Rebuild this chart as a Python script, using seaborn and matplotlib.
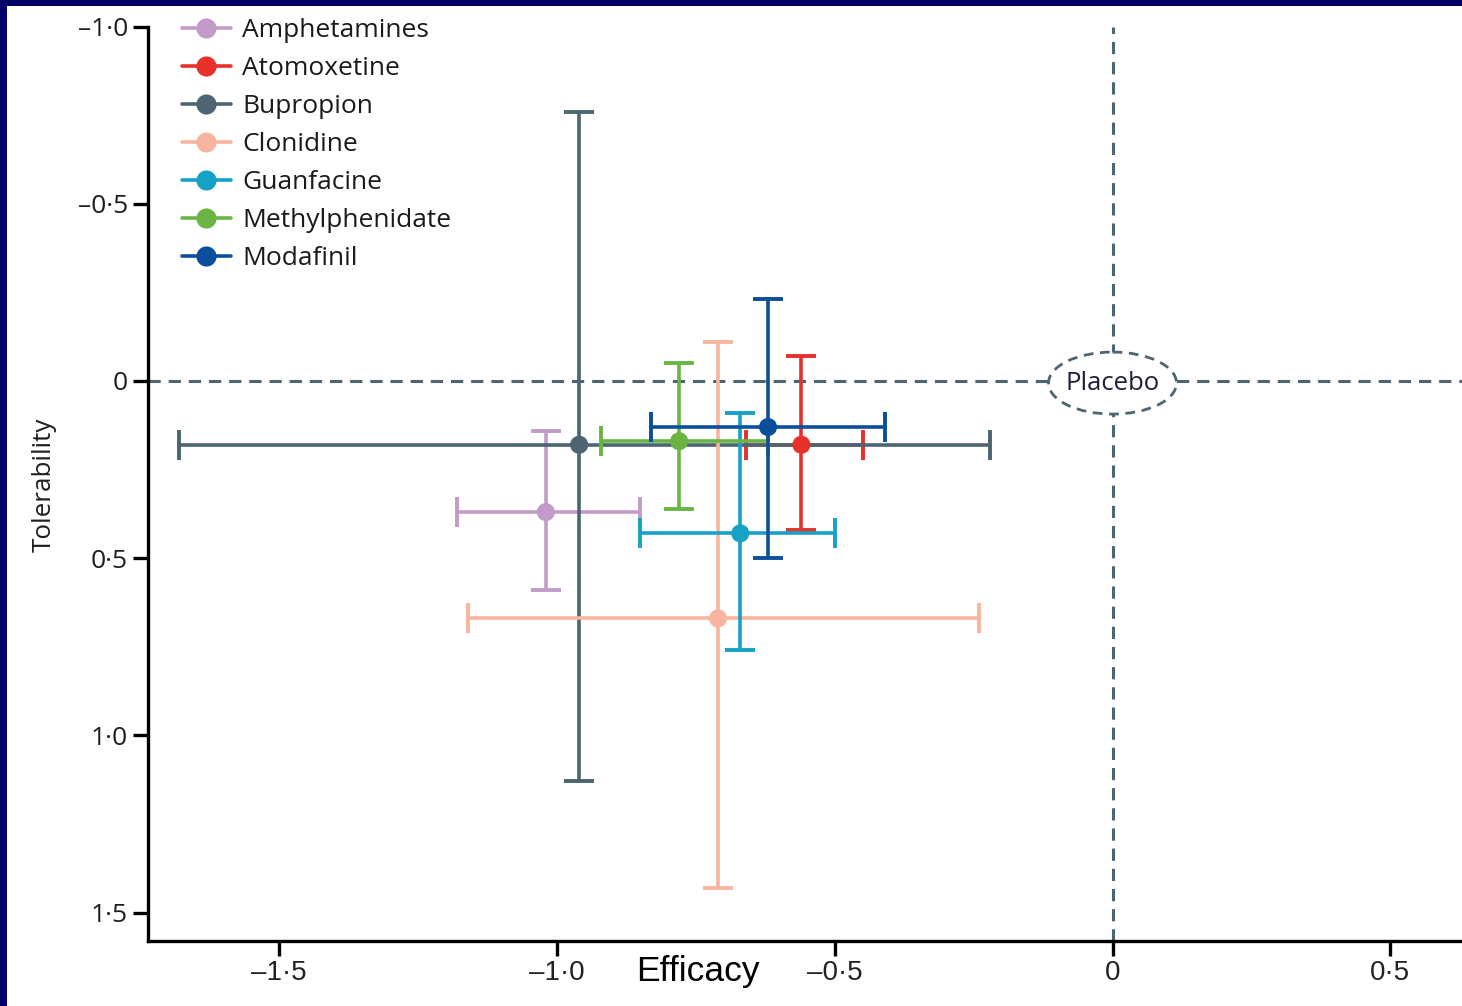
import matplotlib
matplotlib.use("Agg")
import matplotlib.pyplot as plt
from matplotlib.lines import Line2D
from matplotlib.patches import Ellipse, Rectangle
import seaborn as sns
import pandas as pd

# Network meta-analysis summary: efficacy vs tolerability (standardised effects, 95% CI)
drugs = ["Amphetamines", "Atomoxetine", "Bupropion", "Clonidine",
         "Guanfacine", "Methylphenidate", "Modafinil"]
efficacy = [-1.02, -0.56, -0.96, -0.71, -0.67, -0.78, -0.62]
efficacy_lo = [-1.18, -0.66, -1.68, -1.16, -0.85, -0.92, -0.83]
efficacy_hi = [-0.85, -0.45, -0.22, -0.24, -0.50, -0.62, -0.41]
tolerability = [0.37, 0.18, 0.18, 0.67, 0.43, 0.17, 0.13]
tolerability_lo = [0.14, -0.07, -0.76, -0.11, 0.09, -0.05, -0.23]
tolerability_hi = [0.59, 0.42, 1.13, 1.43, 0.76, 0.36, 0.50]
colors = ["#c39bc8", "#e8302a", "#4b6572", "#f8b49e", "#16a2c6", "#69b443", "#0b4f9c"]

x_ticks = [-1.5, -1.0, -0.5, 0, 0.5]
x_ticklabels = ["\u20131\u00b75", "\u20131\u00b70", "\u20130\u00b75", "0", "0\u00b75"]
y_ticks = [-1.0, -0.5, 0, 0.5, 1.0, 1.5]
y_ticklabels = ["\u20131\u00b70", "\u20130\u00b75", "0", "0\u00b75", "1\u00b70", "1\u00b75"]

df = pd.DataFrame({"drug": drugs, "efficacy": efficacy, "tolerability": tolerability})
palette = dict(zip(drugs, colors))

sns.set_theme(style="ticks")
plt.rcParams["font.family"] = ["Open Sans", "DejaVu Sans"]

W, H = 1462, 1006
fig = plt.figure(figsize=(W / 100, H / 100), dpi=100)
fig.patch.set_facecolor("white")

# navy frame along top and left edge
fig.patches.append(Rectangle((0, 1 - 6 / H), 1, 6 / H, transform=fig.transFigure,
                             facecolor="#000066", edgecolor="none", zorder=0))
fig.patches.append(Rectangle((0, 0), 7 / W, 1, transform=fig.transFigure,
                             facecolor="#000066", edgecolor="none", zorder=0))

ax = fig.add_axes([148 / W, 1 - 941 / H, (W - 148) / W, (941 - 26.5) / H])
ax.set_facecolor("white")
ax.set_xlim(-1.736, 0.629)
ax.set_ylim(1.58, -1.0)

line_col = "#4b6572"
ax.axhline(0, color=line_col, lw=2.2, dashes=(4, 2.6), zorder=1)
ax.axvline(0, color=line_col, lw=2.2, dashes=(4, 2.6), zorder=1)

for i, d in enumerate(drugs):
    ax.errorbar(efficacy[i], tolerability[i],
                xerr=[[efficacy[i] - efficacy_lo[i]], [efficacy_hi[i] - efficacy[i]]],
                yerr=[[tolerability[i] - tolerability_lo[i]], [tolerability_hi[i] - tolerability[i]]],
                fmt="none", ecolor=colors[i], elinewidth=2.6, capsize=11, capthick=2.8, zorder=2)

sns.scatterplot(data=df, x="efficacy", y="tolerability", hue="drug", palette=palette,
                s=170, edgecolor="none", legend=False, ax=ax, zorder=3)

# placebo marker at the origin
ell = Ellipse((0, 0.006), width=128 / 555.5, height=62 / 354.5, facecolor="white",
              edgecolor=line_col, lw=2.0, linestyle=(0, (3.5, 2.4)), zorder=4)
ax.add_patch(ell)
ax.text(0, 0.006, "Placebo", ha="center", va="center", fontsize=18.5,
        color="#1e1e3c", zorder=5)

sns.despine(ax=ax)
for s in ("left", "bottom"):
    ax.spines[s].set_linewidth(2.4)
    ax.spines[s].set_color("black")

ax.set_xticks(x_ticks)
ax.set_xticklabels(x_ticklabels, fontsize=20, family=["Liberation Sans", "DejaVu Sans"],
                   color="#222222")
ax.set_yticks(y_ticks)
ax.set_yticklabels(y_ticklabels, fontsize=19, color="#1e1e1e")
ax.tick_params(axis="both", length=11, width=2.4, color="black")
ax.tick_params(axis="x", pad=3)
ax.tick_params(axis="y", pad=3.5)

ax.set_xlabel("Efficacy", fontsize=25.5, family=["Liberation Sans", "DejaVu Sans"], color="black")
ax.xaxis.set_label_coords((698 - 148) / (W - 148), (941 - 972) / (941 - 26.5))
ax.xaxis.label.set_va("center")
ax.set_ylabel("Tolerability", fontsize=18.7, color="#1e1e1e")
ax.yaxis.set_label_coords((44 - 148) / (W - 148), (941 - 485) / (941 - 26.5))
ax.yaxis.label.set_va("center")

handles = [Line2D([0], [0], color=c, lw=2.6, marker="o", markersize=14.5,
                  markeredgewidth=0) for c in colors]
leg = ax.legend(handles, drugs, loc="upper left", bbox_to_anchor=(182 / W, 1 - 18 / H),
                bbox_transform=fig.transFigure, frameon=False, fontsize=19,
                handlelength=1.85, handletextpad=0.42, labelspacing=0.495,
                borderpad=0, borderaxespad=0)
for t in leg.get_texts():
    t.set_color("#1a1a1a")

fig.savefig("out.png", dpi=100, facecolor="white")
